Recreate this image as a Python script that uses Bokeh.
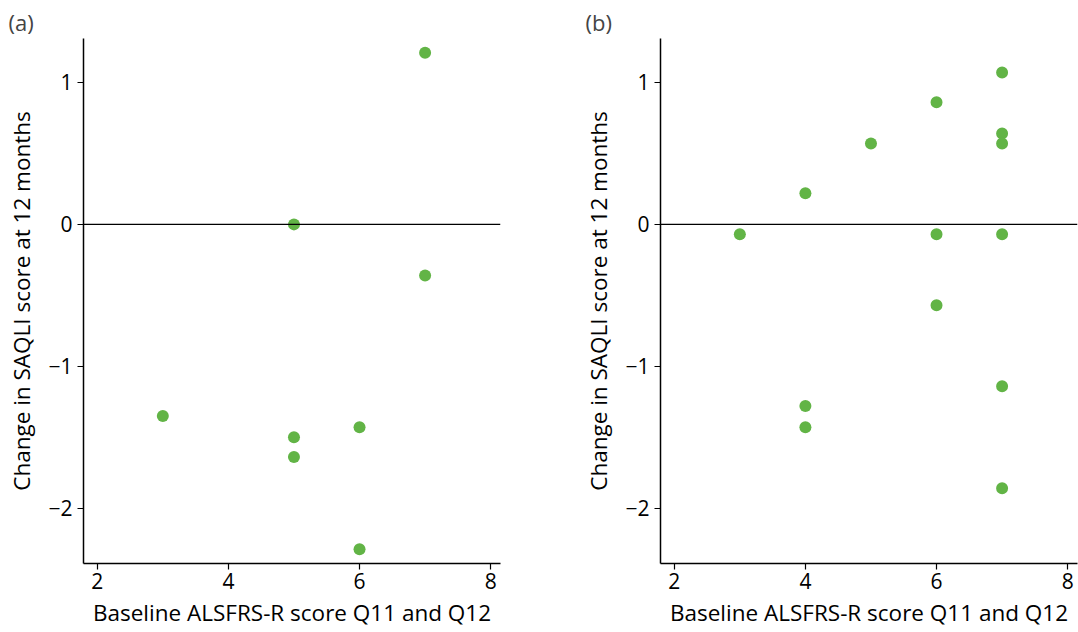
from bokeh.plotting import figure
from bokeh.layouts import row
from bokeh.models import FixedTicker, Span, Range1d
from bokeh.embed import file_html
from bokeh.resources import INLINE

# Panel (a)
a_x = [3, 5, 5, 5, 6, 6, 7, 7]
a_y = [-1.35, 0.0, -1.50, -1.64, -1.43, -2.29, 1.21, -0.36]
# Panel (b)
b_x = [3, 4, 4, 4, 5, 6, 6, 6, 7, 7, 7, 7, 7, 7]
b_y = [-0.07, 0.22, -1.28, -1.43, 0.57, 0.86, -0.07, -0.57, 1.07, 0.64, 0.57, -0.07, -1.14, -1.86]

x_ticks = [2, 4, 6, 8]
y_ticks = [1, 0, -1, -2]
y_tick_labels = {1: "1", 0: "0", -1: "\u22121", -2: "\u22122"}
x_label = "Baseline ALSFRS-R score Q11 and Q12"
y_label = "Change in SAQLI score at 12 months"
FONT = "Open Sans"
GREEN = "#62b446"


def panel(xs, ys, title, left, right, width):
    p = figure(width=width, height=632, output_backend="svg", toolbar_location=None,
               x_range=Range1d(1.79, 8.15), y_range=Range1d(-2.39, 1.31),
               min_border_left=left, min_border_right=right,
               min_border_top=38, min_border_bottom=69)
    p.outline_line_color = None
    p.xgrid.visible = False
    p.ygrid.visible = False
    p.background_fill_color = "white"
    p.border_fill_color = "white"
    p.title.text = title
    p.title.text_font = FONT
    p.title.text_font_size = "22px"
    p.title.text_font_style = "normal"
    p.title.align = "left"
    p.title.offset = -75
    p.title.standoff = 4
    for ax in (p.xaxis[0], p.yaxis[0]):
        ax.axis_line_color = "black"
        ax.axis_line_width = 1.5
        ax.major_tick_line_color = "black"
        ax.major_tick_line_width = 1.2
        ax.major_tick_out = 6
        ax.major_tick_in = 0
        ax.minor_tick_line_color = None
        ax.major_label_text_font = FONT
        ax.major_label_text_font_size = "21px"
        ax.major_label_text_color = "black"
        ax.axis_label_text_font = FONT
        ax.axis_label_text_font_size = "22.5px"
        ax.axis_label_text_font_style = "normal"
        ax.axis_label_text_color = "black"
    p.xaxis.ticker = FixedTicker(ticks=x_ticks)
    p.yaxis.ticker = FixedTicker(ticks=y_ticks)
    p.yaxis.major_label_overrides = y_tick_labels
    p.xaxis.axis_label = x_label
    p.yaxis.axis_label = y_label
    p.xaxis.major_label_standoff = 3
    p.xaxis.axis_label_standoff = 5
    p.yaxis.major_label_standoff = 5
    p.yaxis.axis_label_standoff = 8
    p.add_layout(Span(location=0, dimension="width", line_color="black", line_width=1.2))
    p.scatter(xs, ys, size=12, color=GREEN, line_color=None)
    return p


pa = panel(a_x, a_y, "(a)", 83, 39, 539)
pb = panel(b_x, b_y, "(b)", 121, 1, 539)
layout = row(pa, pb)
open("out.html", "w").write(file_html(layout, INLINE))
